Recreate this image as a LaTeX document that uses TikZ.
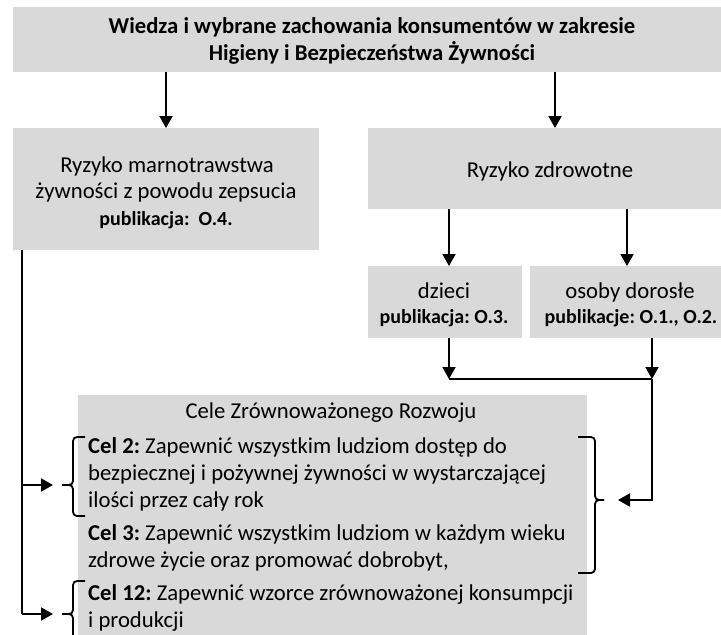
\documentclass[tikz,border=0pt]{standalone}
\usepackage{fontspec}
\setmainfont{Carlito}
\frenchspacing
\usetikzlibrary{arrows.meta}
\definecolor{boxgray}{HTML}{D9D9D9}
\begin{document}
\begin{tikzpicture}[x=1pt,y=-1pt,
  box/.style={fill=boxgray, draw=none, inner sep=0pt, outer sep=0pt},
  tx/.style={anchor=base, inner sep=0pt, font=\fontsize{22.7}{27}\selectfont},
  txb/.style={anchor=base, inner sep=0pt, font=\fontsize{22.7}{27}\selectfont\bfseries},
  pub/.style={anchor=base, inner sep=0pt, font=\fontsize{20}{24}\selectfont\bfseries},
  txl/.style={anchor=base west, inner sep=0pt, font=\fontsize{22.7}{27}\selectfont},
  conn/.style={line width=2pt, -{Triangle[length=12pt,width=13pt]}},
  plain/.style={line width=2pt},
  brace/.style={line width=1.8pt, rounded corners=4pt}]
\useasboundingbox (0,0) rectangle (721,635);
\fill[white] (0,0) rectangle (721,635);
\clip (0,0) rectangle (721,635);

% boxes
\node[box, minimum width=718pt, minimum height=65pt] (top) at (372,39.5) {};
\node[box, minimum width=306pt, minimum height=122pt] (lb) at (166,189) {};
\node[box, minimum width=363pt, minimum height=81pt] (rb) at (549.5,168.5) {};
\node[box, minimum width=154pt, minimum height=72pt] (dz) at (445,302) {};
\node[box, minimum width=201pt, minimum height=72pt] (os) at (630.5,302) {};
\node[box, minimum width=509pt, minimum height=245pt] (sdg) at (332.5,517.5) {};

% texts
\node[txb] (t1) at (372,33) {Wiedza i wybrane zachowania konsumentów w zakresie};
\node[txb] (t2) at (372,60) {Higieny i Bezpieczeństwa Żywności};
\node[tx] (l1) at (167,172) {Ryzyko marnotrawstwa};
\node[tx] (l2) at (166,198) {żywności z powodu zepsucia};
\node[pub] (l3) at (166,225) {publikacja:~ O.4.};
\node[tx] (r1) at (550,177) {Ryzyko zdrowotne};
\node[tx] (d1) at (444,298) {dzieci};
\node[pub] (d2) at (444,323) {publikacja: O.3.};
\node[tx] (o1) at (630,298) {osoby dorosłe};
\node[pub] (o2) at (631,323) {publikacje: O.1., O.2.};
\node[tx] (s0) at (331,418) {Cele Zrównoważonego Rozwoju};
\node[txl] (c2a) at (88,453) {\textbf{Cel 2:} Zapewnić wszystkim ludziom dostęp do};
\node[txl] (c2b) at (88,480) {bezpiecznej i pożywnej żywności w wystarczającej};
\node[txl] (c2c) at (88,507) {ilości przez cały rok};
\node[txl] (c3a) at (88,540) {\textbf{Cel 3:} Zapewnić wszystkim ludziom w każdym wieku};
\node[txl] (c3b) at (88,567) {zdrowe życie oraz promować dobrobyt,};
\node[txl] (c12a) at (88,600) {\textbf{Cel 12:} Zapewnić wzorce zrównoważonej konsumpcji};
\node[txl] (c12b) at (88,627) {i produkcji};

% coordinates
\coordinate (xr) at (555,0);
\coordinate (xd) at (449,0);
\coordinate (xo) at (627,0);
\coordinate (xo2) at (652,0);
\coordinate (xl) at (22,0);
\coordinate (j1) at (449,379);
\coordinate (j2) at (652,379);
\coordinate (j3) at (652,500);
\coordinate (la) at (22,485);
\coordinate (lc) at (22,614);
\coordinate (b2) at (62,485);
\coordinate (b12) at (62,614);
\coordinate (br) at (604,500);

% connectors
\draw[conn] (top.south -| lb.north) -- (lb.north);
\draw[conn] (top.south -| xr) -- (rb.north -| xr);
\draw[conn] (rb.south -| xd) -- (dz.north -| xd);
\draw[conn] (rb.south -| xo) -- (os.north -| xo);
\draw[conn] (dz.south -| xd) -- (j1);
\draw[conn] (os.south -| xo2) -- (j2);
\draw[plain] (j1) -- (j2);
\draw[conn, shorten >=14pt] (j2) -- (j3) -- (br);
\draw[plain] (lb.south -| xl) -- (lc);
\draw[conn, shorten >=9pt] (la) -- (b2);
\draw[conn, shorten >=9pt] (lc) -- (b12);

% braces
\draw[brace] (85,437) -- (73,437) -- (73,485) -- (b2);
\draw[brace] (b2) -- (73,485) -- (73,516) -- (85,516);
\draw[brace] (578,437) -- (595,437) -- (595,500) -- (br);
\draw[brace] (br) -- (595,500) -- (595,573) -- (578,573);
\draw[brace] (85,581) -- (73,581) -- (73,614) -- (b12);
\draw[brace] (b12) -- (73,614) -- (73,647) -- (85,647);
\end{tikzpicture}
\end{document}
